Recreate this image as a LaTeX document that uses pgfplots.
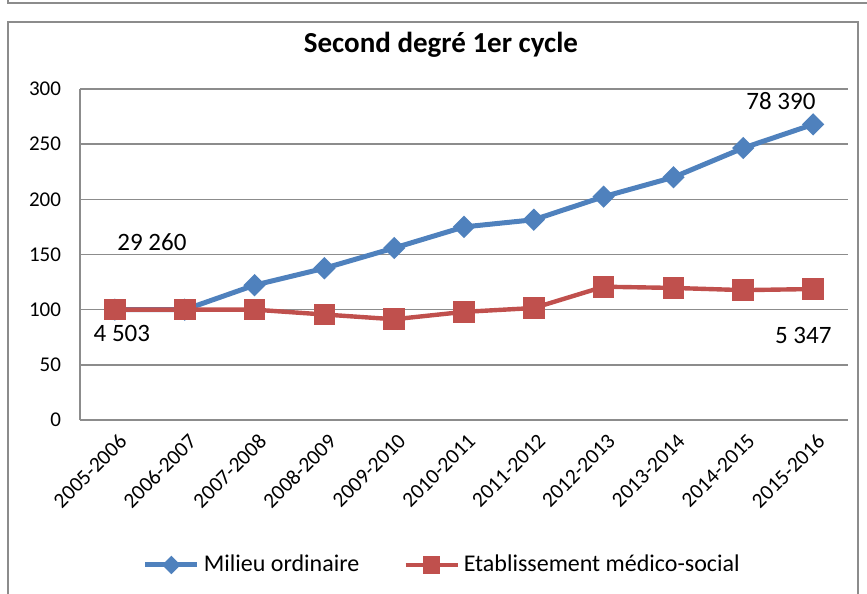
\documentclass[border=0pt]{standalone}
\usepackage{pgfplots}
\pgfplotsset{compat=1.18}
\usepackage{fontspec}
\setmainfont{Carlito}
\definecolor{bleu}{HTML}{4F81BD}
\definecolor{rouge}{HTML}{C0504D}
\definecolor{gridc}{HTML}{8C8C8C}
\begin{document}
\begin{tikzpicture}[x=1pt,y=1pt]
\useasboundingbox (0,0) rectangle (433.5,297);
\draw[gridc,line width=0.8pt] (4,-5) rectangle (429,286);
\draw[gridc,line width=0.8pt] (4,300) -- (4,295.5) -- (440,295.5);
\node[font=\bfseries\fontsize{14.5}{16}\selectfont] at (220.5,274.5) {Second degré 1er cycle};
\begin{axis}[at={(40pt,87pt)},anchor=south west,scale only axis,
  width=384pt,height=165.5pt,
  xmin=-0.5,xmax=10.5,ymin=0,ymax=300,
  ytick={0,50,...,300},
  xtick={0,...,10},
  xticklabels={2005-2006,2006-2007,2007-2008,2008-2009,2009-2010,2010-2011,2011-2012,2012-2013,2013-2014,2014-2015,2015-2016},
  axis x line*=bottom,axis y line*=left,
  axis line style={gridc,line width=0.8pt,-},
  ymajorgrids,major grid style={gridc,line width=0.8pt},
  major tick length=0pt,
  /pgf/number format/assume math mode=true,
  yticklabel style={font=\fontsize{10.5}{12}\selectfont,xshift=-6pt},
  xticklabel style={font=\fontsize{10.7}{12}\selectfont,rotate=45,anchor=north east,xshift=0pt,yshift=-2pt},
  clip=false,
  legend style={at={(0.473,-0.438)},anchor=center,draw=none,legend columns=2,
    font=\fontsize{12}{13}\selectfont,
    /tikz/every even column/.append style={column sep=20pt}},
  legend image code/.code={\draw[mark repeat=2,mark phase=2,#1,every mark/.append style={scale=0.75}] plot coordinates {(0pt,0pt) (13pt,0pt) (26pt,0pt)};},
]
\addplot[bleu,line width=2.5pt,mark=square*,mark size=2.7pt,mark options={rotate=45,solid}] coordinates {
(0,100)(1,100)(2,122.2)(3,137.5)(4,155.9)(5,175)(6,181.5)(7,202.4)(8,220)(9,246.5)(10,267.9)};
\addlegendentry{Milieu ordinaire}
\addplot[rouge,line width=2.2pt,mark=square*,mark size=4.3pt,mark options={solid}] coordinates {
(0,100)(1,100)(2,100)(3,95.6)(4,91.3)(5,98)(6,101.5)(7,120.8)(8,119.7)(9,117.7)(10,118.7)};
\addlegendentry{Etablissement médico-social}
\node[font=\fontsize{12.5}{14}\selectfont] at (axis cs:0.53,161) {29 260};
\node[font=\fontsize{12.5}{14}\selectfont] at (axis cs:0.1,78) {4 503};
\node[font=\fontsize{12.5}{14}\selectfont] at (axis cs:9.54,289) {78 390};
\node[font=\fontsize{12.5}{14}\selectfont] at (axis cs:9.86,77) {5 347};
\end{axis}
\end{tikzpicture}
\end{document}
